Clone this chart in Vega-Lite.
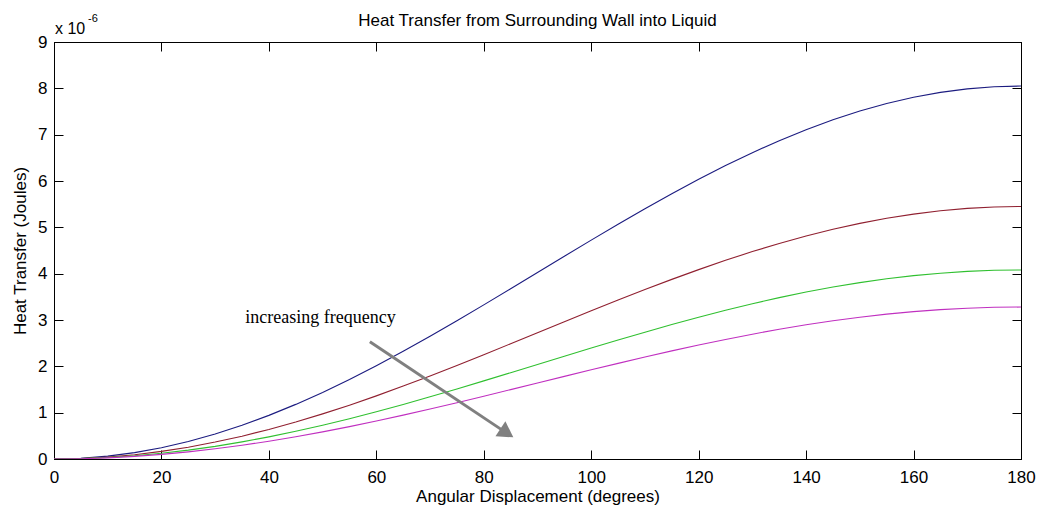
{
  "$schema": "https://vega.github.io/schema/vega-lite/v6.json",
  "width": 967,
  "height": 417,
  "autosize": "none",
  "padding": {"left": 54, "top": 42, "right": 18, "bottom": 53},
  "background": "white",
  "config": {
    "view": {"stroke": "#000000", "strokeWidth": 1},
    "font": "Liberation Sans"
  },
  "title": {
    "text": "Heat Transfer from Surrounding Wall into Liquid",
    "font": "Liberation Sans",
    "fontSize": 17,
    "fontWeight": "normal",
    "color": "#000000",
    "anchor": "middle",
    "offset": -17
  },
  "resolve": {"axis": {"x": "independent", "y": "independent"}},
  "datasets": {
    "curves": [
      {"deg":0,"s":"a","q":0},{"deg":5,"s":"a","q":0.0153},{"deg":10,"s":"a","q":0.0611},{"deg":15,"s":"a","q":0.1371},{"deg":20,"s":"a","q":0.2427},{"deg":25,"s":"a","q":0.3771},{"deg":30,"s":"a","q":0.5392},{"deg":35,"s":"a","q":0.7279},{"deg":40,"s":"a","q":0.9417},{"deg":45,"s":"a","q":1.1789},{"deg":50,"s":"a","q":1.4378},{"deg":55,"s":"a","q":1.7164},{"deg":60,"s":"a","q":2.0125},{"deg":65,"s":"a","q":2.324},{"deg":70,"s":"a","q":2.6484},{"deg":75,"s":"a","q":2.9832},{"deg":80,"s":"a","q":3.3261},{"deg":85,"s":"a","q":3.6742},{"deg":90,"s":"a","q":4.025},{"deg":95,"s":"a","q":4.3758},{"deg":100,"s":"a","q":4.7239},{"deg":105,"s":"a","q":5.0668},{"deg":110,"s":"a","q":5.4016},{"deg":115,"s":"a","q":5.726},{"deg":120,"s":"a","q":6.0375},{"deg":125,"s":"a","q":6.3336},{"deg":130,"s":"a","q":6.6122},{"deg":135,"s":"a","q":6.8711},{"deg":140,"s":"a","q":7.1083},{"deg":145,"s":"a","q":7.3221},{"deg":150,"s":"a","q":7.5108},{"deg":155,"s":"a","q":7.6729},{"deg":160,"s":"a","q":7.8073},{"deg":165,"s":"a","q":7.9129},{"deg":170,"s":"a","q":7.9889},{"deg":175,"s":"a","q":8.0347},{"deg":180,"s":"a","q":8.05},
      {"deg":0,"s":"b","q":0},{"deg":5,"s":"b","q":0.0104},{"deg":10,"s":"b","q":0.0414},{"deg":15,"s":"b","q":0.0929},{"deg":20,"s":"b","q":0.1643},{"deg":25,"s":"b","q":0.2553},{"deg":30,"s":"b","q":0.3651},{"deg":35,"s":"b","q":0.4928},{"deg":40,"s":"b","q":0.6375},{"deg":45,"s":"b","q":0.7981},{"deg":50,"s":"b","q":0.9734},{"deg":55,"s":"b","q":1.162},{"deg":60,"s":"b","q":1.3625},{"deg":65,"s":"b","q":1.5734},{"deg":70,"s":"b","q":1.793},{"deg":75,"s":"b","q":2.0197},{"deg":80,"s":"b","q":2.2518},{"deg":85,"s":"b","q":2.4875},{"deg":90,"s":"b","q":2.725},{"deg":95,"s":"b","q":2.9625},{"deg":100,"s":"b","q":3.1982},{"deg":105,"s":"b","q":3.4303},{"deg":110,"s":"b","q":3.657},{"deg":115,"s":"b","q":3.8766},{"deg":120,"s":"b","q":4.0875},{"deg":125,"s":"b","q":4.288},{"deg":130,"s":"b","q":4.4766},{"deg":135,"s":"b","q":4.6519},{"deg":140,"s":"b","q":4.8125},{"deg":145,"s":"b","q":4.9572},{"deg":150,"s":"b","q":5.0849},{"deg":155,"s":"b","q":5.1947},{"deg":160,"s":"b","q":5.2857},{"deg":165,"s":"b","q":5.3571},{"deg":170,"s":"b","q":5.4086},{"deg":175,"s":"b","q":5.4396},{"deg":180,"s":"b","q":5.45},
      {"deg":0,"s":"c","q":0},{"deg":5,"s":"c","q":0.0078},{"deg":10,"s":"c","q":0.031},{"deg":15,"s":"c","q":0.0695},{"deg":20,"s":"c","q":0.123},{"deg":25,"s":"c","q":0.1911},{"deg":30,"s":"c","q":0.2733},{"deg":35,"s":"c","q":0.3689},{"deg":40,"s":"c","q":0.4773},{"deg":45,"s":"c","q":0.5975},{"deg":50,"s":"c","q":0.7287},{"deg":55,"s":"c","q":0.8699},{"deg":60,"s":"c","q":1.02},{"deg":65,"s":"c","q":1.1779},{"deg":70,"s":"c","q":1.3423},{"deg":75,"s":"c","q":1.512},{"deg":80,"s":"c","q":1.6858},{"deg":85,"s":"c","q":1.8622},{"deg":90,"s":"c","q":2.04},{"deg":95,"s":"c","q":2.2178},{"deg":100,"s":"c","q":2.3942},{"deg":105,"s":"c","q":2.568},{"deg":110,"s":"c","q":2.7377},{"deg":115,"s":"c","q":2.9021},{"deg":120,"s":"c","q":3.06},{"deg":125,"s":"c","q":3.2101},{"deg":130,"s":"c","q":3.3513},{"deg":135,"s":"c","q":3.4825},{"deg":140,"s":"c","q":3.6027},{"deg":145,"s":"c","q":3.7111},{"deg":150,"s":"c","q":3.8067},{"deg":155,"s":"c","q":3.8889},{"deg":160,"s":"c","q":3.957},{"deg":165,"s":"c","q":4.0105},{"deg":170,"s":"c","q":4.049},{"deg":175,"s":"c","q":4.0722},{"deg":180,"s":"c","q":4.08},
      {"deg":0,"s":"d","q":0},{"deg":5,"s":"d","q":0.0062},{"deg":10,"s":"d","q":0.0249},{"deg":15,"s":"d","q":0.0559},{"deg":20,"s":"d","q":0.0989},{"deg":25,"s":"d","q":0.1537},{"deg":30,"s":"d","q":0.2197},{"deg":35,"s":"d","q":0.2966},{"deg":40,"s":"d","q":0.3837},{"deg":45,"s":"d","q":0.4803},{"deg":50,"s":"d","q":0.5858},{"deg":55,"s":"d","q":0.6993},{"deg":60,"s":"d","q":0.82},{"deg":65,"s":"d","q":0.9469},{"deg":70,"s":"d","q":1.0791},{"deg":75,"s":"d","q":1.2155},{"deg":80,"s":"d","q":1.3552},{"deg":85,"s":"d","q":1.4971},{"deg":90,"s":"d","q":1.64},{"deg":95,"s":"d","q":1.7829},{"deg":100,"s":"d","q":1.9248},{"deg":105,"s":"d","q":2.0645},{"deg":110,"s":"d","q":2.2009},{"deg":115,"s":"d","q":2.3331},{"deg":120,"s":"d","q":2.46},{"deg":125,"s":"d","q":2.5807},{"deg":130,"s":"d","q":2.6942},{"deg":135,"s":"d","q":2.7997},{"deg":140,"s":"d","q":2.8963},{"deg":145,"s":"d","q":2.9834},{"deg":150,"s":"d","q":3.0603},{"deg":155,"s":"d","q":3.1263},{"deg":160,"s":"d","q":3.1811},{"deg":165,"s":"d","q":3.2241},{"deg":170,"s":"d","q":3.2551},{"deg":175,"s":"d","q":3.2737},{"deg":180,"s":"d","q":3.28}
    ],
    "arrow": [
      {"x1": 58.8, "y1": 2.53, "x2": 84.0, "y2": 0.58}
    ],
    "arrowhead": [
      {"x": 84.3, "y": 0.56}
    ],
    "label": [
      {"x": 35.6, "y": 3.04, "text": "increasing frequency"}
    ],
    "exponent": [
      {"x": 0, "y": 9}
    ]
  },
  "layer": [
    {
      "data": {"name": "curves"},
      "mark": {"type": "line", "strokeWidth": 1.1, "clip": true},
      "encoding": {
        "x": {
          "field": "deg", "type": "quantitative",
          "scale": {"domain": [0, 180], "nice": false, "zero": false},
          "axis": {
            "orient": "bottom",
            "title": "Angular Displacement (degrees)",
            "titleFont": "Liberation Sans", "titleFontSize": 17, "titleFontWeight": "normal", "titleColor": "#000000", "titlePadding": 3,
            "values": [0, 20, 40, 60, 80, 100, 120, 140, 160, 180],
            "labelFont": "Liberation Sans", "labelFontSize": 17, "labelColor": "#000000", "labelPadding": 19,
            "tickSize": -9, "tickColor": "#000000", "domainColor": "#000000", "grid": false, "labelFlush": false, "labelOverlap": false
          }
        },
        "y": {
          "field": "q", "type": "quantitative",
          "scale": {"domain": [0, 9], "nice": false, "zero": true},
          "axis": {
            "orient": "left",
            "title": "Heat Transfer (Joules)",
            "titleFont": "Liberation Sans", "titleFontSize": 17, "titleFontWeight": "normal", "titleColor": "#000000", "titlePadding": 8,
            "values": [0, 1, 2, 3, 4, 5, 6, 7, 8, 9],
            "labelFont": "Liberation Sans", "labelFontSize": 17, "labelColor": "#000000", "labelPadding": 16,
            "tickSize": -9, "tickColor": "#000000", "domainColor": "#000000", "grid": false, "labelFlush": false, "labelOverlap": false
          }
        },
        "color": {
          "field": "s", "type": "nominal",
          "scale": {"domain": ["a", "b", "c", "d"], "range": ["#1c1c80", "#902030", "#30c030", "#c030c0"]},
          "legend": null
        }
      }
    },
    {
      "data": {"name": "exponent"},
      "mark": {"type": "point", "opacity": 0},
      "encoding": {
        "x": {
          "field": "x", "type": "quantitative",
          "axis": {
            "orient": "top", "title": null, "labels": false,
            "values": [0, 20, 40, 60, 80, 100, 120, 140, 160, 180],
            "tickSize": -9, "tickColor": "#000000", "domainColor": "#000000", "grid": false
          }
        },
        "y": {
          "field": "y", "type": "quantitative",
          "axis": {
            "orient": "right", "title": null, "labels": false,
            "values": [0, 1, 2, 3, 4, 5, 6, 7, 8, 9],
            "tickSize": -9, "tickColor": "#000000", "domainColor": "#000000", "grid": false
          }
        }
      }
    },
    {
      "data": {"name": "arrow"},
      "mark": {"type": "rule", "color": "#808080", "strokeWidth": 3},
      "encoding": {
        "x": {"field": "x1", "type": "quantitative", "axis": null},
        "y": {"field": "y1", "type": "quantitative", "axis": null},
        "x2": {"field": "x2"},
        "y2": {"field": "y2"}
      }
    },
    {
      "data": {"name": "arrowhead"},
      "mark": {"type": "point", "shape": "triangle-right", "filled": true, "color": "#808080", "opacity": 1, "size": 320, "angle": 33.7},
      "encoding": {
        "x": {"field": "x", "type": "quantitative", "axis": null},
        "y": {"field": "y", "type": "quantitative", "axis": null}
      }
    },
    {
      "data": {"name": "label"},
      "mark": {"type": "text", "font": "Liberation Serif", "fontSize": 18, "align": "left", "baseline": "middle", "color": "#000000"},
      "encoding": {
        "x": {"field": "x", "type": "quantitative", "axis": null},
        "y": {"field": "y", "type": "quantitative", "axis": null},
        "text": {"field": "text"}
      }
    },
    {
      "data": {"name": "exponent"},
      "mark": {"type": "text", "text": "x 10", "font": "Liberation Sans", "fontSize": 16, "align": "left", "baseline": "alphabetic", "dx": 1, "dy": -8, "color": "#000000"},
      "encoding": {
        "x": {"field": "x", "type": "quantitative", "axis": null},
        "y": {"field": "y", "type": "quantitative", "axis": null}
      }
    },
    {
      "data": {"name": "exponent"},
      "mark": {"type": "text", "text": "-6", "font": "Liberation Sans", "fontSize": 11, "align": "left", "baseline": "alphabetic", "dx": 34, "dy": -20, "color": "#000000"},
      "encoding": {
        "x": {"field": "x", "type": "quantitative", "axis": null},
        "y": {"field": "y", "type": "quantitative", "axis": null}
      }
    }
  ]
}
